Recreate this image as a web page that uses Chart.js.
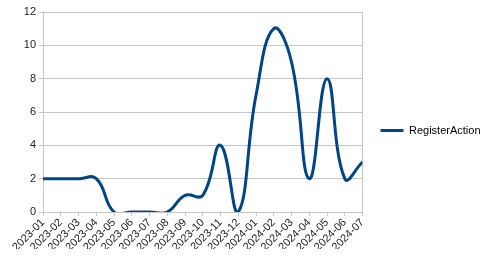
<!DOCTYPE html>
<html>
<head>
<meta charset="utf-8">
<script src="https://cdn.jsdelivr.net/npm/chart.js@4/dist/chart.umd.min.js"></script>
<style>
  body { margin: 0; background: #fff; }
  #wrap { position: relative; width: 491px; height: 261px; }
</style>
</head>
<body>
<div id="wrap"><canvas id="chart"></canvas></div>
<script>
const months = [
  '2023-01', '2023-02', '2023-03', '2023-04', '2023-05', '2023-06', '2023-07',
  '2023-08', '2023-09', '2023-10', '2023-11', '2023-12', '2024-01', '2024-02',
  '2024-03', '2024-04', '2024-05', '2024-06', '2024-07'
];
const registerAction = [2, 2, 2, 2, 0, 0, 0, 0, 1, 1, 4, 0, 7, 11, 9, 2, 8, 2, 3];

const gridGray = '#c6c6c6';
const textColor = '#222';

Chart.defaults.font.family = '"Liberation Sans", Arial, sans-serif';
Chart.defaults.font.size = 11;
Chart.defaults.color = textColor;

new Chart('chart', {
  type: 'line',
  data: {
    labels: months,
    datasets: [{
      label: 'RegisterAction',
      data: registerAction,
      borderColor: '#004586',
      backgroundColor: '#004586',
      borderWidth: 3,
      pointRadius: 0,
      tension: 0.45,
      capBezierPoints: false,
      clip: 0
    }]
  },
  options: {
    responsive: true,
    maintainAspectRatio: false,
    animation: false,
    layout: {
      // bottom padding keeps the legend centred a bit higher; labels still draw below
      padding: { top: 12, right: 9, bottom: 12, left: 4 }
    },
    scales: {
      x: {
        offset: false,
        afterFit: scale => { scale.height = 37; },
        grid: {
          color: ctx => (ctx.index === 0 || ctx.index === months.length - 1) ? gridGray : 'rgba(0,0,0,0)',
          tickColor: gridGray,
          tickLength: 4
        },
        border: { color: gridGray },
        ticks: {
          autoSkip: false,
          minRotation: 45,
          maxRotation: 45,
          padding: 0
        }
      },
      y: {
        min: 0,
        max: 12,
        afterFit: scale => { scale.width = 39; },
        grid: {
          color: gridGray,
          tickLength: 4
        },
        border: { color: gridGray },
        ticks: {
          stepSize: 2,
          padding: 3
        }
      }
    },
    plugins: {
      legend: {
        position: 'right',
        labels: {
          boxWidth: 23,
          boxHeight: 3,
          padding: 18,
          color: '#000',
          generateLabels: chart => Chart.defaults.plugins.legend.labels.generateLabels(chart)
            .map(item => Object.assign(item, { lineWidth: 0 }))
        }
      },
      tooltip: { enabled: false }
    }
  }
});
</script>
</body>
</html>
